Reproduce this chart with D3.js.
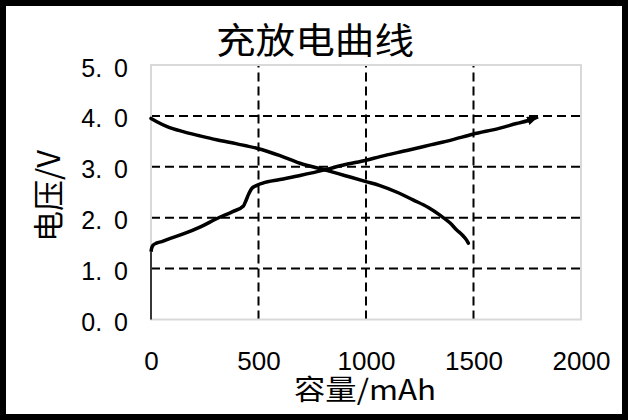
<!DOCTYPE html>
<html>
<head>
<meta charset="utf-8">
<script src="https://cdn.jsdelivr.net/npm/d3@7"></script>
<style>
body{margin:0;background:#fff;}
</style>
</head>
<body>
<svg id="chart" width="628" height="420"></svg>
<script>
// 放电曲线
let dischargeCap = [0, 25, 75, 150, 225, 305, 400, 496, 600, 693, 808, 900, 1000, 1065, 1150, 1219, 1290, 1344, 1390, 1422, 1450, 1468, 1476]
let dischargeV   = [3.95, 3.89, 3.79, 3.69, 3.61, 3.53, 3.45, 3.36, 3.22, 3.07, 2.94, 2.83, 2.71, 2.63, 2.49, 2.35, 2.20, 2.05, 1.90, 1.76, 1.65, 1.56, 1.50]
// 充电曲线
let chargeCap = [0, 0, 3, 10, 25, 50, 75, 150, 230, 305, 380, 430, 440, 455, 468, 490, 520, 600, 693, 808, 900, 1000, 1065, 1200, 1300, 1400, 1496, 1623, 1700, 1755, 1800]
let chargeV   = [0, 1.33, 1.40, 1.46, 1.50, 1.53, 1.57, 1.68, 1.82, 1.98, 2.12, 2.23, 2.32, 2.47, 2.57, 2.63, 2.68, 2.75, 2.83, 2.94, 3.04, 3.13, 3.20, 3.33, 3.43, 3.53, 3.64, 3.76, 3.85, 3.91, 3.98]

let xTicks = [0, 500, 1000, 1500, 2000]
let yTicks = [0, 1, 2, 3, 4, 5]
let title = '充放电曲线'
let xTitle = '容量/mAh'
let yTitle = '电压/V'

let svg = d3.select('#chart')
let x = d3.scaleLinear().domain([0, 2000]).range([151, 581])
let y = d3.scaleLinear().domain([0, 5]).range([319.5, 65])

// 外框
svg.append('rect')
	.attr('x', 3).attr('y', 3)
	.attr('width', 622).attr('height', 414)
	.attr('fill', '#fff')
	.attr('stroke', '#000')
	.attr('stroke-width', 6)

// 网格线 (虚线)
let grid = svg.append('g')
grid.selectAll('.hg')
	.data(yTicks.filter(d => d > 0 && d < 5))
	.enter().append('line')
	.attr('x1', x(0)).attr('x2', x(2000))
	.attr('y1', d => y(d)).attr('y2', d => y(d))
grid.selectAll('.vg')
	.data(xTicks.filter(d => d > 0 && d < 2000))
	.enter().append('line')
	.attr('y1', y(0)).attr('y2', y(5))
	.attr('x1', d => x(d)).attr('x2', d => x(d))
grid.selectAll('line')
	.attr('stroke', '#000')
	.attr('stroke-width', 2)
	.attr('stroke-dasharray', '9,5')

// 绘图区边框
svg.append('rect')
	.attr('x', x(0)).attr('y', y(5))
	.attr('width', x(2000) - x(0)).attr('height', y(0) - y(5))
	.attr('fill', 'none')
	.attr('stroke', '#d9d9d9')
	.attr('stroke-width', 2)

// 坐标轴刻度文字
let xAxis = svg.append('g')
	.attr('transform', 'translate(0,' + y(0) + ')')
	.call(d3.axisBottom(x).tickValues(xTicks).tickSize(0).tickFormat(d3.format('d')))
xAxis.select('.domain').remove()
xAxis.attr('font-family', 'Liberation Sans, Arial, sans-serif').attr('font-size', 26)
xAxis.selectAll('text').attr('y', 50.5).attr('dy', 0).attr('fill', '#000')

let yAxis = svg.append('g')
	.attr('transform', 'translate(' + x(0) + ',0)')
	.call(d3.axisLeft(y).tickValues(yTicks).tickSize(0).tickPadding(23).tickFormat(d3.format('.1f')))
yAxis.select('.domain').remove()
yAxis.attr('font-family', 'Liberation Sans, Arial, sans-serif').attr('font-size', 25)
yAxis.selectAll('text')
	.attr('dy', '0.44em')
	.attr('fill', '#000')
	.each(function(d) {
		let s = d3.format('.1f')(d)
		let t = d3.select(this).text(null)
		t.append('tspan').text(s.slice(0, 2))
		t.append('tspan').attr('dx', 12).text(s.slice(2))
	})

// 箭头
svg.append('defs').append('marker')
	.attr('id', 'arrow')
	.attr('viewBox', '0 0 10 8')
	.attr('refX', 10).attr('refY', 4)
	.attr('markerUnits', 'userSpaceOnUse')
	.attr('markerWidth', 11).attr('markerHeight', 9)
	.attr('orient', 'auto')
	.append('path')
	.attr('d', 'M0,0L10,4L0,8Z')
	.attr('fill', '#000')

let line = d3.line()
	.x(d => x(d[0]))
	.y(d => y(d[1]))
	.curve(d3.curveMonotoneX)

let discharge = dischargeCap.map((c, i) => [c, dischargeV[i]])
let charge = chargeCap.map((c, i) => [c, chargeV[i]])

svg.append('path')
	.datum(discharge)
	.attr('d', line)
	.attr('fill', 'none')
	.attr('stroke', '#000')
	.attr('stroke-width', 3.5)
	.attr('stroke-linejoin', 'round')
	.attr('stroke-linecap', 'round')

// 起始竖线较细
svg.append('path')
	.datum(charge.slice(0, 2))
	.attr('d', d3.line().x(d => x(d[0])).y(d => y(d[1])))
	.attr('fill', 'none')
	.attr('stroke', '#000')
	.attr('stroke-width', 1.5)

svg.append('path')
	.datum(charge.slice(1))
	.attr('d', line)
	.attr('fill', 'none')
	.attr('stroke', '#000')
	.attr('stroke-width', 3.5)
	.attr('stroke-linejoin', 'round')
	.attr('marker-end', 'url(#arrow)')

// 标题
svg.append('text')
	.attr('x', 315).attr('y', 54)
	.attr('text-anchor', 'middle')
	.attr('font-family', 'Noto Sans CJK SC')
	.attr('font-size', 36)
	.attr('textLength', 198)
	.attr('lengthAdjust', 'spacingAndGlyphs')
	.text(title)

svg.append('text')
	.attr('x', 365).attr('y', 400)
	.attr('text-anchor', 'middle')
	.attr('font-family', 'Noto Sans CJK SC')
	.attr('font-size', 28)
	.attr('textLength', 142)
	.attr('lengthAdjust', 'spacingAndGlyphs')
	.text(xTitle)

svg.append('text')
	.attr('transform', 'translate(60,242) rotate(-90)')
	.attr('text-anchor', 'start')
	.attr('font-family', 'Noto Sans CJK SC')
	.attr('font-size', 31)
	.text(yTitle)
</script>
</body>
</html>
